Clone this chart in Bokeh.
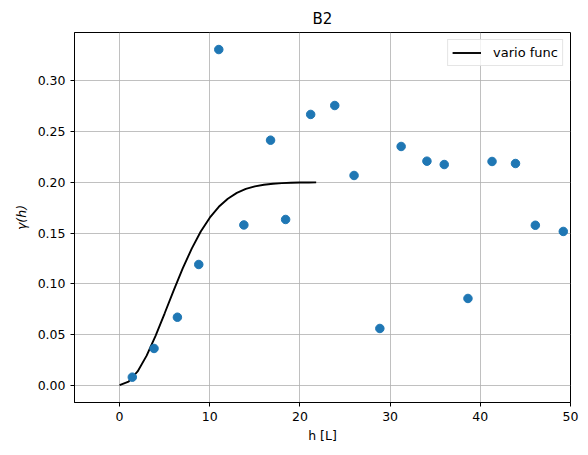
from bokeh.plotting import figure
from bokeh.models import Range1d, FixedTicker, NumeralTickFormatter, Legend, LegendItem
from bokeh.embed import file_html
from bokeh.resources import INLINE

# empirical variogram points
lag = [1.41, 3.82, 6.41, 8.78, 11.0, 13.78, 16.74, 18.41, 21.19, 23.86,
       26.0, 28.86, 31.22, 34.08, 36.0, 38.63, 41.3, 43.9, 46.1, 49.2]
gamma = [0.0079, 0.0362, 0.067, 0.119, 0.331, 0.158, 0.2416, 0.1634, 0.267, 0.2758,
         0.2068, 0.0559, 0.2354, 0.2209, 0.2176, 0.0855, 0.2206, 0.2186, 0.1577, 0.1516]

# model curve
h_fit = [0, 1, 2, 3, 4, 5, 6, 7, 8, 9, 10, 11, 12, 13, 14, 15, 16, 17, 18, 19, 20, 21, 21.8]
g_fit = [0.0, 0.0035, 0.0135, 0.0291, 0.0489, 0.0709, 0.0935, 0.1151, 0.1347, 0.1515,
         0.1652, 0.1759, 0.1839, 0.1896, 0.1935, 0.1961, 0.1977, 0.1987, 0.1993, 0.1996,
         0.1998, 0.1999, 0.2]

x_ticks = [0, 10, 20, 30, 40, 50]
y_ticks = [0.0, 0.05, 0.10, 0.15, 0.20, 0.25, 0.30]

FONT = "DejaVu Sans"

p = figure(width=588, height=455, output_backend="svg", toolbar_location=None,
           x_range=Range1d(-5, 50), y_range=Range1d(-0.0171, 0.3478),
           min_border_left=74, min_border_right=18, min_border_top=32, min_border_bottom=53)
p.title.text = "B2"
p.title.align = "center"
p.title.text_font = FONT
p.title.text_font_size = "15px"
p.title.text_font_style = "normal"
p.title.text_color = "black"

p.outline_line_color = "black"
p.outline_line_width = 1
p.outline_line_alpha = 1

for ax in (p.xaxis[0], p.yaxis[0]):
    ax.axis_line_color = "black"
    ax.major_tick_line_color = "black"
    ax.major_tick_out = 4
    ax.major_tick_in = 0
    ax.minor_tick_line_color = None
    ax.major_label_text_font = FONT
    ax.major_label_text_font_size = "12.5px"
    ax.major_label_text_color = "black"
    ax.axis_label_text_font = FONT
    ax.axis_label_text_font_size = "12.5px"
    ax.axis_label_text_color = "black"
    ax.axis_label_text_font_style = "normal"

p.xaxis.ticker = FixedTicker(ticks=x_ticks)
p.yaxis.ticker = FixedTicker(ticks=y_ticks)
p.yaxis.formatter = NumeralTickFormatter(format="0.00")
p.xaxis.axis_label = "h [L]"
p.yaxis.axis_label = "γ(h)"
p.yaxis.axis_label_text_font_style = "italic"
p.xaxis.axis_label_standoff = 4
p.yaxis.axis_label_standoff = 6

p.grid.grid_line_color = "#b0b0b0"
p.grid.grid_line_width = 0.8
p.xgrid.ticker = FixedTicker(ticks=x_ticks)
p.ygrid.ticker = FixedTicker(ticks=y_ticks)

line = p.line(h_fit, g_fit, line_color="black", line_width=1.9)
p.scatter(lag, gamma, size=8.5, fill_color="#1f77b4", line_color="#1f77b4")

legend = Legend(items=[LegendItem(label="vario func", renderers=[line])],
                location="top_right")
legend.label_text_font = FONT
legend.label_text_font_size = "13px"
legend.label_text_color = "black"
legend.border_line_color = "#cccccc"
legend.border_line_width = 1
legend.background_fill_alpha = 0.8
legend.glyph_width = 29
legend.glyph_height = 17
legend.padding = 4
legend.margin = 7
legend.spacing = 0
legend.label_standoff = 12
p.add_layout(legend)

open("out.html", "w").write(file_html(p, INLINE))
